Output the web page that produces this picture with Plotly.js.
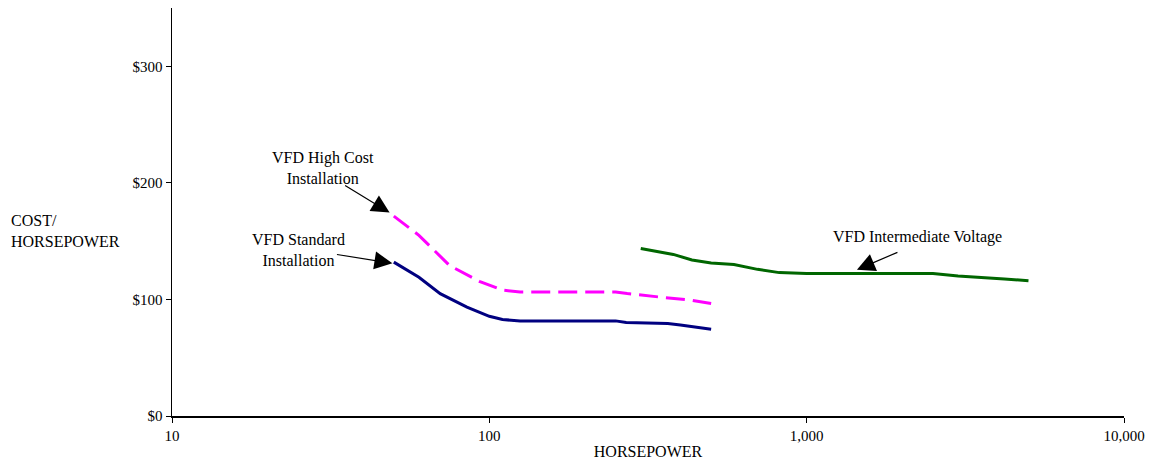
<!DOCTYPE html>
<html>
<head>
<meta charset="utf-8">
<script src="https://cdn.plot.ly/plotly-3.0.1.min.js"></script>
<style>html,body{margin:0;padding:0;background:#fff}#chart{width:1149px;height:464px}</style>
</head>
<body>
<div id="chart"></div>
<script>
// Data
const stdHP   = [50, 60, 70, 85, 100, 110, 125, 250, 270, 365, 400, 500];
const stdCost = [132, 119, 105, 93.4, 85.5, 82.8, 81.5, 81.6, 80.3, 79.4, 78, 74.5];

const highHP   = [50, 60, 75, 93, 110, 125, 250, 272, 345, 430, 500];
const highCost = [171.5, 155, 129, 115.5, 108, 106.3, 106.3, 105, 102, 99.4, 96.5];

const ivHP   = [300, 380, 435, 500, 590, 700, 820, 1000, 2500, 3000, 4200, 5000];
const ivCost = [143.6, 138.6, 133.8, 131.2, 130, 125.8, 123, 122.2, 122.2, 120, 117.6, 116];

const xTickVals = [10, 100, 1000, 10000];
const xTickText = ['10', '100', '1,000', '10,000'];
const yTickVals = [0, 100, 200, 300];
const yTickText = ['$0', '$100', '$200', '$300'];

const serif = 'Liberation Serif, Times New Roman, serif';

const traces = [
  {x: stdHP, y: stdCost, mode: 'lines', line: {color: '#000080', width: 3}, hoverinfo: 'skip'},
  {x: highHP, y: highCost, mode: 'lines', line: {color: '#FF00FF', width: 3, dash: '19px,8px'}, hoverinfo: 'skip'},
  {x: ivHP, y: ivCost, mode: 'lines', line: {color: '#006600', width: 3}, hoverinfo: 'skip'}
];

const arrowBase = {showarrow: true, arrowhead: 2, arrowsize: 3, arrowwidth: 1.2, arrowcolor: '#000', text: '', xref: 'x', yref: 'y', axref: 'pixel', ayref: 'pixel'};
const txt = {showarrow: false, font: {family: serif, size: 16, color: '#000'}, xref: 'paper', yref: 'paper', align: 'center'};
const py = v => (416 - v) / 408;
const px = v => (v - 172) / 952;

const layout = {
  width: 1149, height: 464,
  margin: {l: 172, r: 25, t: 8, b: 48},
  paper_bgcolor: '#fff', plot_bgcolor: '#fff',
  showlegend: false,
  font: {family: serif, size: 15, color: '#000'},
  xaxis: {
    type: 'log', range: [1, 4],
    tickvals: xTickVals, ticktext: xTickText,
    showgrid: false, zeroline: false,
    showline: true, linecolor: '#000', linewidth: 1.5,
    ticks: 'outside', ticklen: 5, tickcolor: '#000', tickwidth: 1,
    tickfont: {family: serif, size: 15, color: '#000'},
    title: {text: 'HORSEPOWER', font: {family: serif, size: 16, color: '#000'}, standoff: 3}
  },
  yaxis: {
    range: [0, 350],
    tickvals: yTickVals, ticktext: yTickText,
    showgrid: false, zeroline: false,
    showline: true, linecolor: '#000', linewidth: 1.5,
    ticks: 'outside', ticklen: 5, tickcolor: '#000', tickwidth: 1,
    tickfont: {family: serif, size: 15, color: '#000'}
  },
  annotations: [
    Object.assign({}, txt, {x: px(9), y: py(231), xanchor: 'left', yanchor: 'middle', align: 'left', text: 'COST/<br>HORSEPOWER'}),
    Object.assign({}, txt, {x: px(323), y: py(168), xanchor: 'center', yanchor: 'middle', text: 'VFD High Cost<br>Installation'}),
    Object.assign({}, txt, {x: px(298), y: py(250), xanchor: 'center', yanchor: 'middle', text: 'VFD Standard<br>Installation'}),
    Object.assign({}, txt, {x: px(917), y: py(237), xanchor: 'center', yanchor: 'middle', text: 'VFD Intermediate Voltage'}),
    Object.assign({}, arrowBase, {x: Math.log10(48.5), y: 174.5, ax: -46, ay: -28}),
    Object.assign({}, arrowBase, {x: Math.log10(49.5), y: 131, ax: -57, ay: -9}),
    Object.assign({}, arrowBase, {x: Math.log10(1440), y: 125.5, ax: 42, ay: -18})
  ]
};

Plotly.newPlot('chart', traces, layout, {displayModeBar: false, staticPlot: true});
</script>
</body>
</html>
